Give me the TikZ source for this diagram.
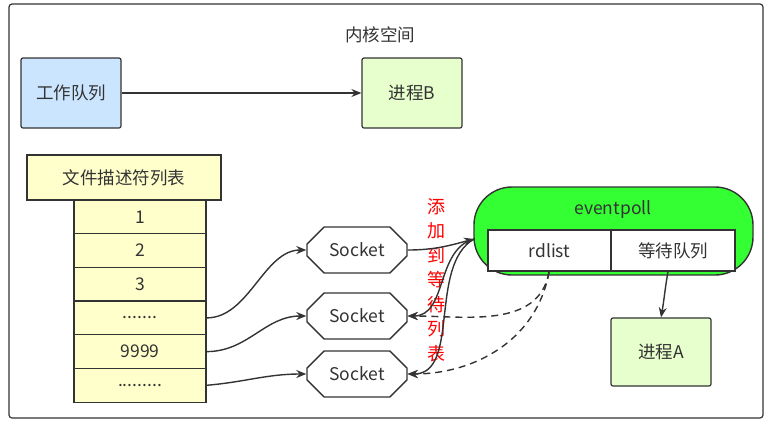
\documentclass[tikz,border=0pt]{standalone}
\usepackage{fontspec}
\setmainfont{Noto Sans CJK SC}
\usetikzlibrary{shapes.misc,arrows.meta}
\definecolor{ln}{HTML}{333333}
\begin{document}
\begin{tikzpicture}[x=1pt,y=-1pt,font=\fontsize{17.5}{20}\selectfont,text=ln,
  box/.style={draw=ln,line width=1.2pt,rounded corners=2pt,inner sep=0pt},
  arr/.style={-{Stealth[length=10pt,width=8pt]},draw=ln,line width=1.4pt},
  sock/.style={draw=ln,line width=1.4pt,chamfered rectangle,chamfered rectangle xsep=10pt,chamfered rectangle ysep=10pt, minimum width=100pt,minimum height=46pt,inner sep=0pt,fill=white},
  cell/.style={draw=ln,line width=1.2pt,fill={rgb,255:red,255;green,255;blue,204},minimum width=132pt,minimum height=33.7pt,inner sep=0pt}]
\useasboundingbox (0,0) rectangle (773,424);
\draw[rounded corners=3pt,draw=ln,line width=1.2pt] (9,4) rectangle (763,418);
\node (title) at (380,35) {内核空间};
\node[box,fill={rgb,255:red,204;green,229;blue,255},minimum width=100pt,minimum height=70pt] (wq) at (71,93) {工作队列};
\node[box,fill={rgb,255:red,230;green,255;blue,204},minimum width=100pt,minimum height=70pt] (pb) at (412,93) {进程B};
\draw[arr] (wq) -- (pb);
\node[draw=ln,line width=1.2pt,fill={rgb,255:red,255;green,255;blue,204},minimum width=194pt,minimum height=45pt,inner sep=0pt] (fdt) at (124,177.5) {文件描述符列表};
\foreach \i/\t in {0/1,1/2,2/3,3/{.......},4/9999,5/{.........}}{
  \node[cell] (r\i) at (140,{216.8+33.7*\i}) {\t};
}
\node[sock] (s1) at (357,250) {Socket};
\node[sock] (s2) at (357,316) {Socket};
\node[sock] (s3) at (357,374) {Socket};
\node[draw=ln,line width=1.4pt,fill={rgb,255:red,51;green,255;blue,51},rounded corners=38pt,minimum width=279pt,minimum height=88pt] (ep) at (613.5,231) {};
\node (eptxt) at (613,210) {eventpoll};
\node[draw=ln,line width=1.2pt,fill=white,minimum width=123pt,minimum height=41pt,inner sep=0pt] (rd) at (549.5,250.5) {rdlist};
\node[draw=ln,line width=1.2pt,fill=white,minimum width=124pt,minimum height=41pt,inner sep=0pt] (wt) at (673,250.5) {等待队列};
\node[box,fill={rgb,255:red,230;green,255;blue,204},minimum width=100pt,minimum height=68pt] (pa) at (661,352) {进程A};
\draw[arr] (wt.south) ++(-5,0) coordinate (wb) (wb) to[out=-100,in=80] (pa.north);
\node[text=red,align=center,font=\fontsize{18}{24.5}\selectfont] (lbl) at (436,280) {添\\加\\到\\等\\待\\列\\表};
\draw[arr] (r3.east) to[out=0,in=180,looseness=0.9] (s1.west);
\draw[arr] (r4.east) to[out=0,in=180] (s2.west);
\draw[arr] (r5.east) to[out=5,in=180] (s3.west);
\coordinate (epl) at (474,239);
\draw[arr] (s1.east) to[out=0,in=195] (epl);
\draw[arr] (epl) to[out=-165,in=0] (s2.east);
\draw[arr] (epl) to[out=-150,in=0,looseness=0.9] (s3.east);
\coordinate (rb) at (549,272);
\draw[arr,dashed,dash pattern=on 7pt off 5pt] (rb) to[out=-100,in=0] (s2.east);
\draw[arr,dashed,dash pattern=on 7pt off 5pt] (rb) to[out=-100,in=0] (s3.east);
\end{tikzpicture}
\end{document}
